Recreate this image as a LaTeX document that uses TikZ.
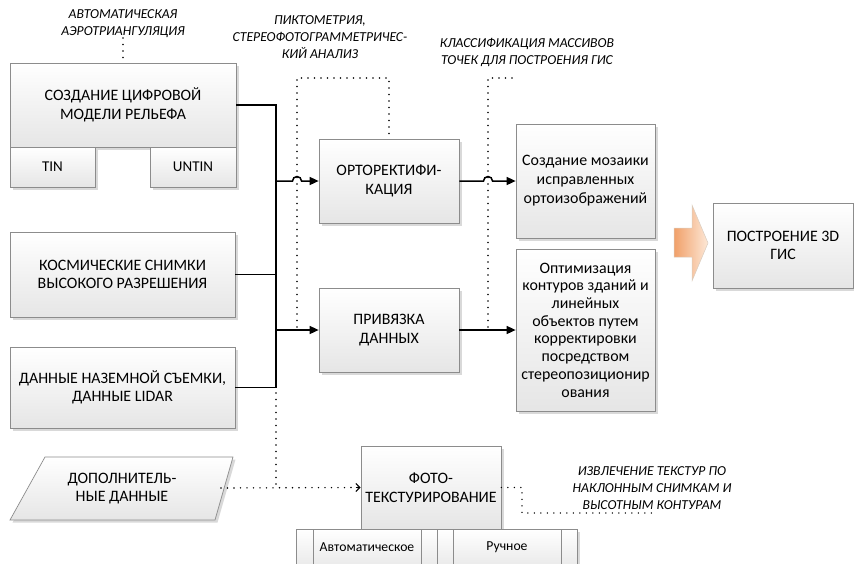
\documentclass[tikz,border=0pt]{standalone}
\usepackage{fontspec}
\setmainfont{Carlito}
\usetikzlibrary{arrows.meta,calc,shadows,shapes.geometric}
\tikzset{
  boxstyle/.style={draw=black!45, line width=0.7pt, top color=white, bottom color=black!10,
    drop shadow={shadow xshift=2.5pt, shadow yshift=-2.5pt, fill=black!25, opacity=0.6},
    inner sep=0pt, align=center, font=\fontsize{15.9}{18.5}\selectfont},
  plainbox/.style={draw=black!45, line width=0.7pt, top color=white, bottom color=black!10},
  buswire/.style={line width=1.5pt, black},
  arr/.style={buswire, -{Triangle[length=9pt,width=8pt]}},
  dotline/.style={line width=1.6pt, line cap=round, dash pattern=on 0pt off 6.5pt, black},
  note/.style={font=\fontsize{13.7}{17}\selectfont\itshape, align=center, inner sep=0pt},
  small/.style={font=\fontsize{13.7}{15}\selectfont, inner sep=0pt}
}
\begin{document}
\begin{tikzpicture}[x=1pt,y=-1pt]
\useasboundingbox (0,0) rectangle (854,563);
% left column
\node[boxstyle, minimum width=226pt, minimum height=84pt] (dem) at (123,105) {СОЗДАНИЕ ЦИФРОВОЙ\\МОДЕЛИ РЕЛЬЕФА};
\node[boxstyle, minimum width=85pt, minimum height=40pt, font=\fontsize{15}{17}\selectfont] (tin) at (52.5,167) {TIN};
\node[boxstyle, minimum width=86pt, minimum height=40pt, font=\fontsize{15}{17}\selectfont] (untin) at (193,167) {UNTIN};
\node[boxstyle, minimum width=225pt, minimum height=85pt] (kos) at (122.5,274.5) {КОСМИЧЕСКИЕ СНИМКИ\\ВЫСОКОГО РАЗРЕШЕНИЯ};
\node[boxstyle, minimum width=225pt, minimum height=81pt] (naz) at (122.5,387.5) {ДАННЫЕ НАЗЕМНОЙ СЪЕМКИ,\\ДАННЫЕ LIDAR};
\path[plainbox, drop shadow={shadow xshift=2.5pt, shadow yshift=-2.5pt, fill=black!25, opacity=0.6}] (45,457) -- (233,457) -- (215,520) -- (10,520) -- cycle;
\node[align=center, inner sep=0pt, font=\fontsize{15.9}{18.5}\selectfont] (dop) at (122,488.5) {ДОПОЛНИТЕЛЬ-\\НЫЕ ДАННЫЕ};
\coordinate (dopE) at (221,488);
% middle
\node[boxstyle, minimum width=140pt, minimum height=84pt] (orto) at (389,181) {ОРТОРЕКТИФИ-\\КАЦИЯ};
\node[boxstyle, minimum width=140pt, minimum height=84pt] (priv) at (389,330) {ПРИВЯЗКА\\ДАННЫХ};
% right
\node[boxstyle, minimum width=139pt, minimum height=114pt, font=\fontsize{15.9}{19}\selectfont] (moz) at (585.5,181) {Создание мозаики\\исправленных\\ортоизображений};
\node[boxstyle, minimum width=139pt, minimum height=162pt, font=\fontsize{15.9}{17.7}\selectfont] (opt) at (585.5,330) {Оптимизация\\контуров зданий и\\линейных\\объектов путем\\корректировки\\посредством\\стереопозиционир\\ования};
\node[boxstyle, minimum width=140pt, minimum height=85pt] (gis) at (783,245.5) {ПОСТРОЕНИЕ 3D\\ГИС};
% bottom
\node[boxstyle, minimum width=140pt, minimum height=83pt] (foto) at (431,487.5) {ФОТО-\\ТЕКСТУРИРОВАНИЕ};
\node[boxstyle, minimum width=141pt, minimum height=44pt, anchor=north] (auto) at (366.5,529) {};
\node[boxstyle, minimum width=140pt, minimum height=44pt, anchor=north] (ruch) at (507,529) {};
\draw[black!45, line width=0.7pt] (313,529) -- (313,573) (421,529) -- (421,573)
      (453,529) -- (453,573) (561,529) -- (561,573);
\node[small] (autot) at (367,547) {Автоматическое};
\node[small] (rucht) at (507,547) {Ручное};
% orange arrow
\draw[draw=orange!40!black!25, line width=0.5pt, left color={rgb,255:red,241;green,160;blue,105}, right color={rgb,255:red,253;green,232;blue,215}]
  (674,228) -- (692,228) -- (692,205) -- (708,243) -- (692,281) -- (692,257) -- (674,257) -- cycle;
% labels
\node[note] (lab1) at (123,24) {АВТОМАТИЧЕСКАЯ\\АЭРОТРИАНГУЛЯЦИЯ};
\node[note] (lab2) at (320,37) {ПИКТОМЕТРИЯ,\\СТЕРЕОФОТОГРАММЕТРИЧЕС-\\КИЙ АНАЛИЗ};
\node[note] (lab3) at (527,52) {КЛАССИФИКАЦИЯ МАССИВОВ\\ТОЧЕК ДЛЯ ПОСТРОЕНИЯ ГИС};
\node[note] (lab4) at (652,488.5) {ИЗВЛЕЧЕНИЕ ТЕКСТУР ПО\\НАКЛОННЫМ СНИМКАМ И\\ВЫСОТНЫМ КОНТУРАМ};
% coordinates
\coordinate (busB) at (276,387.5);
\coordinate (d1) at (297,78);
\coordinate (d2) at (488,78);
\coordinate (d2e) at (517,78);
\coordinate (d3) at (276,393);
\coordinate (d4) at (522,513);
\coordinate (d4e) at (657,513);
\coordinate (d0) at (123,38);
% bus
\draw[buswire] (dem.east) -| (busB) -- (naz.east);
\draw[buswire] (kos.east) -- (kos.east -| busB);
\draw[arr] (orto.west -| busB) -- ($(d1 |- orto.west)+(-4.5,0)$) arc[start angle=180,end angle=0,radius=4.5pt] -- (orto.west);
\draw[arr] (priv.west -| busB) -- (priv.west);
\draw[arr] (orto.east) -- ($(d2 |- orto.west)+(-4.5,0)$) arc[start angle=180,end angle=0,radius=4.5pt] -- (moz.west);
\draw[arr] (priv.east) -- (opt.west);
% dotted
\draw[dotline] (d0) -- (dem.north);
\draw[dotline] ($(d1 |- priv.west)+(0,-3)$) -- (d1) -| (orto.north);
\draw[dotline] ($(d2 |- priv.west)+(0,-3)$) -- (d2) -- (d2e);
\draw[dotline] (d3) -- (d3 |- dopE);
\draw[dotline] (dopE) -- ($(foto.west)+(-3,0)$);
\draw[line width=1.1pt, -{Straight Barb[length=4pt,width=8pt]}] ($(foto.west)+(-5,0)$) -- (foto.west);
\draw[dotline] (foto.east) -| (d4) -- (d4e);
\end{tikzpicture}
\end{document}
